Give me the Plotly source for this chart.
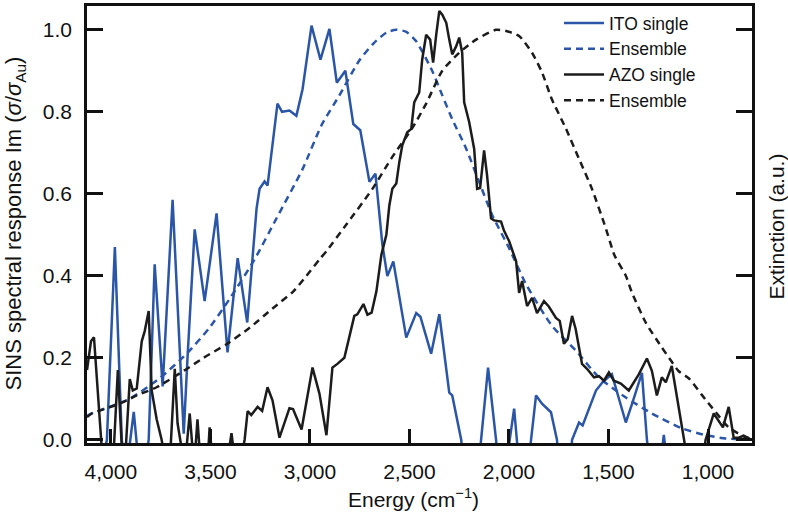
import plotly.graph_objects as go

# ---------------- data ----------------
ito_single_e = [4040, 4020, 3980, 3945, 3935, 3905, 3885, 3870, 3825, 3810, 3780, 3740, 3690, 3634, 3615,
                3579, 3529, 3469, 3414, 3363, 3315, 3268, 3253, 3228, 3213, 3163, 3140, 3103, 3068, 3037,
                2992, 2947, 2902, 2865, 2822, 2782, 2747, 2701, 2671, 2636, 2611, 2581, 2516, 2466, 2445,
                2391, 2350, 2300, 2285, 2240, 2230, 2150, 2140, 2105, 2065, 2055, 2005, 1974, 1955, 1900,
                1889, 1864, 1834, 1789, 1759, 1750, 1690, 1683, 1648, 1630, 1563, 1530, 1483, 1413, 1380,
                1332, 1307, 1295, 1232, 1222, 1212, 1150]
ito_single_v = [-0.05, 0.0, 0.47, 0.0, -0.05, -0.01, 0.068, -0.01, -0.05, 0.0, 0.428, 0.13, 0.585, 0.015, 0.2,
                0.513, 0.338, 0.552, 0.213, 0.443, 0.286, 0.564, 0.612, 0.63, 0.62, 0.82, 0.8, 0.803, 0.79, 0.855,
                1.01, 0.927, 1.002, 0.871, 0.9, 0.77, 0.755, 0.629, 0.649, 0.476, 0.399, 0.435, 0.249, 0.309, 0.3,
                0.21, 0.306, 0.115, 0.108, 0.0, -0.05, -0.05, 0.0, 0.176, 0.0, -0.05, -0.03, 0.076, -0.03, -0.05,
                0.0, 0.108, 0.088, 0.067, 0.0, -0.05, -0.05, 0.0, 0.042, 0.035, 0.12, 0.14, 0.16, 0.042, 0.09,
                0.163, 0.0, -0.05, -0.03, 0.012, -0.03, -0.05]

ito_ens_e = [4120, 4096, 3905, 3755, 3619, 3510, 3404, 3278, 3168, 3037, 2942, 2852, 2752, 2680, 2616,
             2566, 2516, 2466, 2386, 2335, 2285, 2215, 2150, 2085, 1999, 1914, 1784, 1663, 1548, 1413,
             1282, 1132, 1012, 911, 780]
ito_ens_v = [0.058, 0.064, 0.1, 0.15, 0.21, 0.27, 0.343, 0.44, 0.54, 0.66, 0.767, 0.84, 0.925, 0.967, 0.993,
             1.0, 0.995, 0.972, 0.9, 0.84, 0.782, 0.71, 0.629, 0.549, 0.467, 0.379, 0.278, 0.217, 0.152, 0.103,
             0.064, 0.028, 0.011, 0.003, 0.0]

azo_single_e = [4120, 4100, 4085, 4065, 4046, 4000, 3985, 3965, 3945, 3925, 3905, 3890, 3870, 3845, 3830,
                3810, 3795, 3770, 3745, 3735, 3700, 3679, 3665, 3645, 3620, 3604, 3590, 3575, 3565, 3555,
                3510, 3504, 3495, 3405, 3394, 3385, 3340, 3328, 3313, 3295, 3263, 3240, 3213, 3188, 3153,
                3103, 3085, 3042, 3017, 2987, 2952, 2917, 2887, 2862, 2827, 2802, 2777, 2762, 2731, 2711,
                2690, 2666, 2641, 2616, 2601, 2586, 2566, 2551, 2536, 2511, 2491, 2476, 2451, 2436, 2416,
                2396, 2381, 2365, 2350, 2335, 2315, 2300, 2285, 2265, 2250, 2235, 2225, 2200, 2175, 2160,
                2145, 2125, 2110, 2090, 2075, 2040, 2025, 1999, 1964, 1949, 1934, 1909, 1884, 1859, 1824,
                1800, 1764, 1745, 1724, 1705, 1683, 1665, 1633, 1608, 1573, 1548, 1523, 1498, 1473, 1438,
                1398, 1347, 1307, 1282, 1257, 1232, 1212, 1182, 1157, 1122, 1110, 1020, 1012, 971, 946,
                925, 896, 871, 845, 821, 790]
azo_single_v = [0.17, 0.24, 0.25, 0.1, -0.02, -0.03, -0.02, 0.17, -0.02, -0.02, 0.148, 0.12, 0.125, 0.24, 0.265,
                0.314, 0.12, 0.05, 0.0, -0.03, -0.02, 0.173, 0.04, -0.02, -0.02, 0.064, -0.02, -0.02, 0.05, -0.02,
                -0.02, 0.03, -0.02, -0.02, 0.016, -0.02, -0.03, 0.0, 0.07, 0.06, 0.08, 0.07, 0.128, 0.096, 0.005,
                0.077, 0.075, 0.025, 0.096, 0.176, 0.112, 0.011, 0.176, 0.185, 0.2, 0.249, 0.302, 0.306, 0.331, 0.305,
                0.31, 0.362, 0.451, 0.5, 0.572, 0.612, 0.625, 0.677, 0.718, 0.75, 0.758, 0.823, 0.847, 0.927, 0.988,
                0.976, 0.92, 0.99, 1.046, 1.037, 1.017, 0.976, 0.94, 0.96, 0.981, 0.944, 0.823, 0.775, 0.71, 0.612,
                0.614, 0.706, 0.645, 0.54, 0.535, 0.532, 0.51, 0.484, 0.435, 0.358, 0.387, 0.326, 0.346, 0.309, 0.338,
                0.325, 0.297, 0.29, 0.234, 0.245, 0.302, 0.27, 0.185, 0.173, 0.152, 0.155, 0.144, 0.164, 0.144, 0.137,
                0.12, 0.16, 0.198, 0.168, 0.108, 0.152, 0.14, 0.18, 0.103, 0.0, -0.03, -0.03, 0.0, 0.064, 0.045,
                0.03, 0.08, 0.005, 0.005, 0.01, 0.002]

azo_ens_e = [4120, 4096, 3955, 3870, 3770, 3634, 3534, 3419, 3303, 3183, 3083, 3017, 2952, 2917, 2817,
             2686, 2586, 2486, 2416, 2335, 2250, 2165, 2065, 2014, 1949, 1884, 1834, 1784, 1713, 1648,
             1583, 1513, 1470, 1413, 1383, 1312, 1232, 1182, 1147, 1097, 1032, 961, 896, 811, 780]
azo_ens_v = [0.055, 0.064, 0.088, 0.108, 0.128, 0.168, 0.2, 0.233, 0.273, 0.322, 0.362, 0.4, 0.44, 0.46, 0.525,
             0.612, 0.69, 0.76, 0.82, 0.9, 0.944, 0.976, 1.0, 0.997, 0.985, 0.944, 0.896, 0.83, 0.758, 0.685,
             0.612, 0.515, 0.45, 0.4, 0.36, 0.285, 0.225, 0.19, 0.167, 0.15, 0.11, 0.067, 0.03, 0.006, 0.003]

x_tickvals = [4000, 3500, 3000, 2500, 2000, 1500, 1000]
x_ticktext = ["4,000", "3,500", "3,000", "2,500", "2,000", "1,500", "1,000"]
y_tickvals = [0.0, 0.2, 0.4, 0.6, 0.8, 1.0]
y_ticktext = ["0.0", "0.2", "0.4", "0.6", "0.8", "1.0"]

# ---------------- figure ----------------
BLUE = "#2b55a6"
BLACK = "#1c1c1c"
FONT = "Liberation Sans, Arial, Helvetica, sans-serif"
DASH = "7px,5px"

fig = go.Figure()
fig.add_trace(go.Scatter(x=ito_single_e, y=ito_single_v, mode="lines", name="ITO single",
                         line=dict(color=BLUE, width=2.5)))
fig.add_trace(go.Scatter(x=ito_ens_e, y=ito_ens_v, mode="lines", name="Ensemble",
                         line=dict(color=BLUE, width=2.5, dash=DASH, shape="spline", smoothing=0.6)))
fig.add_trace(go.Scatter(x=azo_single_e, y=azo_single_v, mode="lines", name="AZO single",
                         line=dict(color=BLACK, width=2.5)))
fig.add_trace(go.Scatter(x=azo_ens_e, y=azo_ens_v, mode="lines", name="Ensemble",
                         line=dict(color=BLACK, width=2.5, dash=DASH, shape="spline", smoothing=0.6)))

L, R, T, B = 87, 36, 3, 74
W, H = 788, 517
pw, ph = W - L - R, H - T - B

def px_x(p):
    return (p - L) / pw

def px_y(p):
    return (H - B - p) / ph

fig.update_layout(
    width=W, height=H,
    margin=dict(l=L, r=R, t=T, b=B, pad=0),
    paper_bgcolor="white", plot_bgcolor="white",
    font=dict(family=FONT, size=21, color="#111111"),
    showlegend=True,
    legend=dict(x=px_x(559), y=px_y(2), xanchor="left", yanchor="top",
                bgcolor="rgba(0,0,0,0)", borderwidth=0,
                font=dict(family=FONT, size=17.5, color="#111111"),
                itemwidth=40, tracegroupgap=0),
    xaxis=dict(range=[4120, 779], tickmode="array", tickvals=x_tickvals, ticktext=x_ticktext,
               ticks="inside", ticklen=14, tickwidth=2.5, tickcolor="#111111",
               showline=True, linewidth=2.5, linecolor="#111111", mirror=True,
               showgrid=False, zeroline=False, ticklabelstandoff=8,
               tickfont=dict(family=FONT, size=21)),
    yaxis=dict(range=[-0.008, 1.058], tickmode="array", tickvals=y_tickvals, ticktext=y_ticktext,
               ticks="inside", ticklen=16, tickwidth=2.5, tickcolor="#111111",
               showline=True, linewidth=2.5, linecolor="#111111", mirror="ticks",
               showgrid=False, zeroline=False, ticklabelstandoff=8,
               tickfont=dict(family=FONT, size=21)),
    annotations=[
        dict(text="SINS spectral response Im (<i>σ</i>/<i>σ</i><sub>Au</sub>)", xref="paper", yref="paper",
             x=px_x(15), y=px_y(222), xanchor="center", yanchor="middle", textangle=-90,
             showarrow=False, font=dict(family=FONT, size=22, color="#111111")),
        dict(text="Extinction (a.u.)", xref="paper", yref="paper",
             x=px_x(776), y=px_y(225), xanchor="center", yanchor="middle", textangle=-90,
             showarrow=False, font=dict(family=FONT, size=21, color="#111111")),
        dict(text="Energy (cm<sup>−1</sup>)", xref="paper", yref="paper",
             x=px_x(413), y=px_y(498), xanchor="center", yanchor="middle",
             showarrow=False, font=dict(family=FONT, size=21, color="#111111")),
    ],
)

fig.write_html("out.html", config={"displayModeBar": False},
               post_script="document.body.style.margin='0';document.body.style.overflow='hidden';")
